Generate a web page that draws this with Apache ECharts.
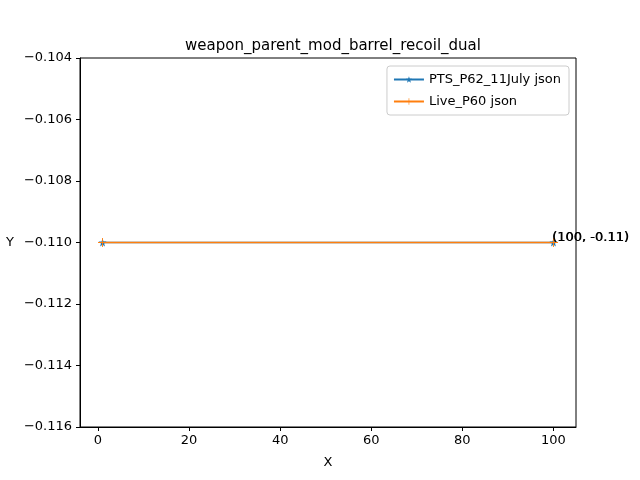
<!DOCTYPE html>
<html>
<head>
<meta charset="utf-8">
<script src="https://cdn.jsdelivr.net/npm/echarts@6/dist/echarts.min.js"></script>
<style>html,body{margin:0;padding:0;background:#fff}#chart{width:640px;height:480px}</style>
</head>
<body>
<div id="chart"></div>
<script>
let xValues = [1, 100];
let ptsValues = [-0.11, -0.11];
let liveValues = [-0.11, -0.11];
let xTicks = [0, 20, 40, 60, 80, 100];
let seriesNames = ['PTS_P62_11July json', 'Live_P60 json'];

const STAR = 'path://M0,-10 L2.35,-3.24 L9.51,-3.09 L3.8,1.24 L5.88,8.09 L0,4 L-5.88,8.09 L-3.8,1.24 L-9.51,-3.09 L-2.35,-3.24 Z';
const PLUS = 'path://M-1,-10 L1,-10 L1,-1 L10,-1 L10,1 L1,1 L1,10 L-1,10 L-1,1 L-10,1 L-10,-1 L-1,-1 Z';
const font = 'DejaVu Sans';

function build(vals, name, color, sym, size) {
    let data = vals.map(function (v, i) {
        let d = { value: [xValues[i], v] };
        if (i === vals.length - 1) {
            d.label = {
                show: true, position: [3, -7], color: '#000', fontSize: 13, fontFamily: font,
                formatter: '(' + xValues[i] + ', ' + v + ')'
            };
        }
        return d;
    });
    return {
        name: name, type: 'line', data: data, symbol: sym, symbolSize: size,
        showAllSymbol: true, color: color,
        lineStyle: { width: 1.5, color: color }, itemStyle: { color: color },
        emphasis: { disabled: true }, animation: false
    };
}

let chart = echarts.init(document.getElementById('chart'));
chart.setOption({
    backgroundColor: '#fff',
    title: {
        text: 'weapon_parent_mod_barrel_recoil_dual', left: 328, top: 34, textAlign: 'center',
        textStyle: { fontFamily: font, fontSize: 15, fontWeight: 'normal', color: '#000' }
    },
    legend: {
        right: 71, top: 66, orient: 'vertical', itemWidth: 30, itemHeight: 8, itemGap: 9,
        backgroundColor: '#fff', borderColor: '#ccc', borderWidth: 1, borderRadius: 3,
        padding: [7, 8, 7, 6],
        textStyle: { fontFamily: font, fontSize: 13, color: '#000' },
        data: seriesNames
    },
    grid: { left: 80, right: 64, top: 58, bottom: 53, show: true, borderColor: '#000', borderWidth: 1 },
    xAxis: {
        type: 'value', min: -3.95, max: 104.95, name: 'X', nameLocation: 'middle', nameGap: 29,
        nameTextStyle: { fontFamily: font, fontSize: 13, color: '#000' },
        splitLine: { show: false },
        axisLine: { onZero: false, lineStyle: { color: '#000' } },
        axisTick: { show: true, length: 4, customValues: xTicks, lineStyle: { color: '#000' } },
        axisLabel: { customValues: xTicks, fontFamily: font, fontSize: 13, color: '#000', margin: 7 }
    },
    yAxis: {
        type: 'value', min: -0.116, max: -0.104, interval: 0.002, name: 'Y', nameLocation: 'middle',
        nameGap: 66, nameRotate: 0,
        nameTextStyle: { fontFamily: font, fontSize: 13, color: '#000' },
        splitLine: { show: false },
        axisLine: { show: true, onZero: false, lineStyle: { color: '#000' } },
        axisTick: { show: true, length: 4, inside: false, lineStyle: { color: '#000' } },
        axisLabel: { fontFamily: font, fontSize: 13, color: '#000', formatter: function (v) { return '\u2212' + Math.abs(v).toFixed(3); } }
    },
    series: [
        build(ptsValues, seriesNames[0], '#1f77b4', STAR, 8),
        build(liveValues, seriesNames[1], '#ff7f0e', PLUS, 9)
    ]
});
</script>
</body>
</html>
